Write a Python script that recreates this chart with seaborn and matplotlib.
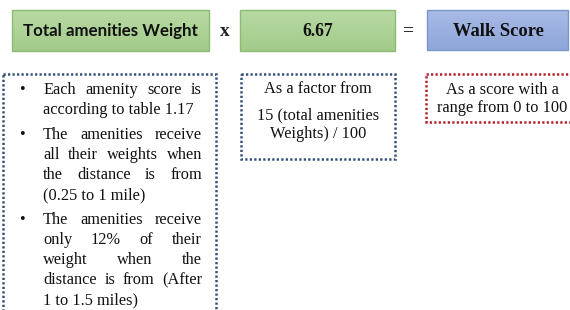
import matplotlib
matplotlib.use("Agg")
import matplotlib.pyplot as plt
import numpy as np
import seaborn as sns
from matplotlib.patches import Rectangle

# text content of the diagram
top_labels = ["Total amenities Weight", "6.67", "Walk Score"]
operators = ["x", "="]
bullet_paras = [
    ["Each amenity score is", "according to table 1.17"],
    ["The amenities receive", "all their weights when", "the distance is from", "(0.25 to 1 mile)"],
    ["The amenities receive", "only 12% of their", "weight when the", "distance is from (After", "1 to 1.5 miles)"],
]
factor_lines = ["As a factor from", "15 (total amenities", "Weights) / 100"]
score_lines = ["As a score with a", "range from 0 to 100"]

sns.set_theme(style="white")
plt.rcParams['font.family'] = ['Liberation Serif', 'DejaVu Serif']

fig = plt.figure(figsize=(5.7, 3.1), dpi=100)
ax = fig.add_axes([0, 0, 1, 1])
ax.set_xlim(0, 570)
ax.set_ylim(310, 0)
ax.axis('off')


def grad_box(x0, y0, x1, y1, top, bottom, edge):
    grad = np.linspace(0, 1, 50)[:, None]
    c0 = np.array(matplotlib.colors.to_rgb(top))
    c1 = np.array(matplotlib.colors.to_rgb(bottom))
    img = c0[None, None, :] * (1 - grad[..., None]) + c1[None, None, :] * grad[..., None]
    ax.imshow(img, extent=(x0, x1, y1, y0), aspect='auto', zorder=1)
    ax.add_patch(Rectangle((x0, y0), x1 - x0, y1 - y0, fill=False, ec=edge, lw=1.0, zorder=2))


def dotted_box(x0, y0, x1, y1, color):
    ax.add_patch(Rectangle((x0, y0), x1 - x0, y1 - y0, fill=False, ec=color, lw=1.8,
                           ls=(0, (0.9, 0.9)), zorder=2))


# top row
grad_box(12, 10, 209, 51, '#b8daa4', '#a2cb89', '#8dbb72')
grad_box(240, 10, 395, 51, '#b8daa4', '#a2cb89', '#8dbb72')
grad_box(427, 10, 568, 50, '#a9bbe6', '#8ea6da', '#7c95c9')
ax.text(110, 31, top_labels[0], ha='center', va='center', fontsize=12.2,
        fontweight='bold', family=['Lato', 'DejaVu Sans'], color='#111111', zorder=3)
ax.text(318, 31, top_labels[1], ha='center', va='center', fontsize=12.7,
        fontweight='bold', color='#111111', zorder=3)
ax.text(498, 31, top_labels[2], ha='center', va='center', fontsize=13.3,
        fontweight='bold', color='#111111', zorder=3)
ax.text(225, 31, operators[0], ha='center', va='center', fontsize=14,
        fontweight='bold', color='#222222')
ax.text(409, 31, operators[1], ha='center', va='center', fontsize=14,
        fontweight='bold', color='#222222')

# dotted boxes
navy = '#34507e'
dotted_box(3, 74, 216, 330, navy)
dotted_box(241, 74, 395, 159, navy)
dotted_box(426, 74, 575, 122, '#b3202a')

# bullet list with justified lines
fig.canvas.draw()
renderer = fig.canvas.get_renderer()
fs = 11.8
left, right = 43, 202
y = 90
for para in bullet_paras:
    ax.text(22, y, "\u2022", ha='center', va='center', fontsize=fs, color='#111111')
    for i, line in enumerate(para):
        last = i == len(para) - 1
        words = line.split(' ')
        if last or len(words) == 1:
            ax.text(left, y, line, ha='left', va='center', fontsize=fs, color='#111111')
        else:
            widths = []
            for w in words:
                t = ax.text(0, 0, w, fontsize=fs)
                bb = t.get_window_extent(renderer)
                widths.append(bb.width)
                t.remove()
            gap = (right - left - sum(widths)) / (len(words) - 1)
            x = left
            for w, wd in zip(words, widths):
                ax.text(x, y, w, ha='left', va='center', fontsize=fs, color='#111111')
                x += wd + gap
        y += 20
    y += 5

# factor box text
for txt, yy in zip(factor_lines, [89, 115, 134]):
    ax.text(318, yy, txt, ha='center', va='center', fontsize=fs, color='#111111')

# score box text
for txt, yy in zip(score_lines, [90, 108]):
    ax.text(502, yy, txt, ha='center', va='center', fontsize=fs, color='#111111')

fig.savefig('out.png', dpi=100)
